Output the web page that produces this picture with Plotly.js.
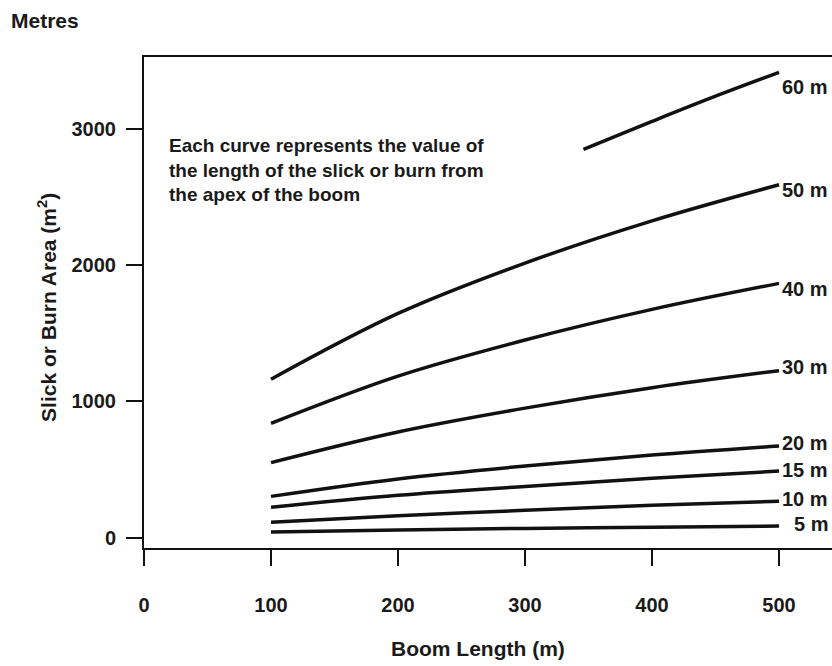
<!DOCTYPE html>
<html><head><meta charset="utf-8">
<script src="https://cdn.plot.ly/plotly-3.0.1.min.js"></script>
<style>html,body{margin:0;padding:0;background:#fff}#chart{width:832px;height:666px}</style>
</head><body><div id="chart"></div>
<script>
// Data
const boomLength = [100, 200, 300, 400, 500];
const boomLength60 = [346, 400, 450, 500];
const area5  = [40, 56, 67, 76, 84];
const area10 = [112, 160, 200, 236, 266];
const area15 = [222, 310, 375, 435, 488];
const area20 = [302, 430, 525, 605, 672];
const area30 = [550, 775, 950, 1100, 1225];
const area40 = [838, 1185, 1450, 1675, 1866];
const area50 = [1162, 1645, 2015, 2325, 2590];
const area60 = [2850, 3055, 3240, 3415];
const curveLabels = ['5 m', '10 m', '15 m', '20 m', '30 m', '40 m', '50 m', '60 m'];
const xTicks = [0, 100, 200, 300, 400, 500];
const yTicks = [0, 1000, 2000, 3000];

const seriesX = [boomLength, boomLength, boomLength, boomLength, boomLength, boomLength, boomLength, boomLength60];
const seriesY = [area5, area10, area15, area20, area30, area40, area50, area60];
const labelShift = [2, 2, 1, 3, 4, -6, -5, -15];

const FONT = '"Liberation Sans Narrow", "Arial Narrow", "Liberation Sans", Arial, sans-serif';
const INK = '#1a1a1a';

const traces = seriesY.map((ys, i) => ({
  type: 'scatter', mode: 'lines', x: seriesX[i], y: ys, name: curveLabels[i],
  line: {color: '#111', width: 3.5, shape: 'spline', smoothing: 1},
  hoverinfo: 'skip', showlegend: false
}));

const annotations = seriesY.map((ys, i) => ({
  xref: 'paper', yref: 'y', x: 1, y: ys[ys.length - 1], xanchor: 'right', yanchor: 'middle',
  xshift: -2, yshift: labelShift[i], showarrow: false, text: '<b>' + curveLabels[i] + '</b>',
  font: {family: FONT, size: 20, color: INK}
}));

annotations.push({
  xref: 'paper', yref: 'paper', x: 0.0334, y: 0.845, xanchor: 'left', yanchor: 'top', align: 'left',
  showarrow: false,
  text: '<b>Each curve represents the value of<br>the length of the slick or burn from<br>the apex of the boom</b>',
  font: {family: FONT, size: 19, color: INK}
});
annotations.push({
  xref: 'paper', yref: 'paper', x: -0.141, y: 0.491, xanchor: 'center', yanchor: 'middle',
  textangle: -90, showarrow: false, text: '<b>Slick or Burn Area (m<sup>2</sup>)</b>',
  font: {family: FONT, size: 21, color: INK}
});
annotations.push({
  xref: 'paper', yref: 'paper', x: 0.4855, y: -0.204, xanchor: 'center', yanchor: 'middle',
  showarrow: false, text: '<b>Boom Length (m)</b>',
  font: {family: FONT, size: 21, color: INK}
});

const layout = {
  width: 832, height: 666,
  margin: {l: 144, r: 0, t: 57, b: 118},
  paper_bgcolor: '#fff', plot_bgcolor: '#fff',
  title: {text: '<b>Metres</b>', xref: 'container', yref: 'container', x: 11/832, xanchor: 'left',
          y: 1 - 21/666, yanchor: 'middle', font: {family: FONT, size: 21, color: INK}},
  xaxis: {range: [0, 541.7], tickvals: xTicks, ticktext: xTicks.map(v => '<b>' + v + '</b>'),
          ticks: 'outside', ticklen: 16, tickwidth: 2, tickcolor: '#111',
          showline: true, linewidth: 2, linecolor: '#111', mirror: true,
          showgrid: false, zeroline: false, ticklabelstandoff: 22,
          tickfont: {family: FONT, size: 20, color: INK}},
  yaxis: {range: [-77, 3528], tickvals: yTicks, ticktext: yTicks.map(v => '<b>' + v + '</b>'),
          ticks: 'outside', ticklen: 16, tickwidth: 2, tickcolor: '#111',
          showline: true, linewidth: 2, linecolor: '#111',
          showgrid: false, zeroline: false, ticklabelstandoff: 6,
          tickfont: {family: FONT, size: 20, color: INK}},
  annotations: annotations
};

Plotly.newPlot('chart', traces, layout, {staticPlot: true, displayModeBar: false});
</script>
</body></html>
